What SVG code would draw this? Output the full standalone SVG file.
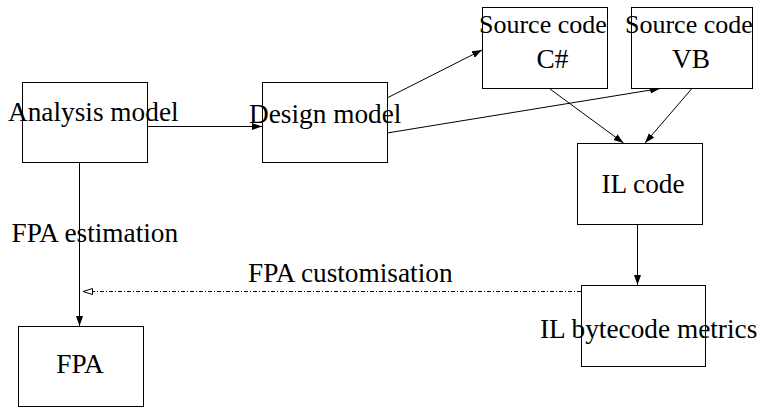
<svg xmlns="http://www.w3.org/2000/svg" width="757" height="408" viewBox="0 0 757 408">
  <style>
    .box { fill: #ffffff; stroke: #000000; stroke-width: 1; }
    .lbl { font-family: "Liberation Serif", "Times New Roman", serif; font-size: 27.3px; fill: #000000; }
    .src { font-size: 26px; }
    .mid { text-anchor: middle; }
    .edge { fill: none; stroke: #000000; stroke-width: 1; }
    .dashdot { stroke-dasharray: 4 2 1 2; }
  </style>
  <defs>
    <marker id="solidHead" markerWidth="11" markerHeight="8" refX="10" refY="4" orient="auto" markerUnits="userSpaceOnUse">
      <path d="M0,0.5 L10,4 L0,7.5 Z" fill="#000000"/>
    </marker>
    <marker id="openHead" markerWidth="12" markerHeight="8" refX="10" refY="4" orient="auto" markerUnits="userSpaceOnUse">
      <path d="M0.5,1 L10,4 L0.5,7 Z" fill="#ffffff" stroke="#000000" stroke-width="1"/>
    </marker>
  </defs>

  <rect width="757" height="408" fill="#ffffff"/>

  <g id="connectors">
    <line class="edge" x1="147" y1="126.5" x2="262" y2="126.5" marker-end="url(#solidHead)"/>
    <line class="edge" x1="387" y1="98" x2="482" y2="50" marker-end="url(#solidHead)"/>
    <line class="edge" x1="387" y1="133" x2="660" y2="88.5" marker-end="url(#solidHead)"/>
    <line class="edge" x1="550" y1="89" x2="623.5" y2="143" marker-end="url(#solidHead)"/>
    <line class="edge" x1="691.5" y1="89" x2="645" y2="143" marker-end="url(#solidHead)"/>
    <line class="edge" x1="637.5" y1="224" x2="637.5" y2="285" marker-end="url(#solidHead)"/>
    <line class="edge" x1="79.5" y1="163" x2="79.5" y2="326" marker-end="url(#solidHead)"/>
    <line class="edge dashdot" x1="581" y1="291.5" x2="83" y2="291.5" marker-end="url(#openHead)"/>
  </g>

  <g id="analysis-model">
    <rect class="box" x="22.5" y="82.5" width="125" height="80"/>
    <text class="lbl" x="8" y="121">Analysis model</text>
  </g>

  <g id="design-model">
    <rect class="box" x="262.5" y="82.5" width="125" height="80"/>
    <text class="lbl" x="249" y="123">Design model</text>
  </g>

  <g id="source-csharp">
    <rect class="box" x="482.5" y="7.5" width="125" height="81"/>
    <text class="lbl src" x="479" y="33">Source code</text>
    <text class="lbl mid" x="552.5" y="68">C#</text>
  </g>

  <g id="source-vb">
    <rect class="box" x="631.5" y="7.5" width="121" height="81"/>
    <text class="lbl src" x="625" y="33">Source code</text>
    <text class="lbl mid" x="691" y="68">VB</text>
  </g>

  <g id="il-code">
    <rect class="box" x="577.5" y="143.5" width="125" height="81"/>
    <text class="lbl" x="601.5" y="193">IL code</text>
  </g>

  <g id="il-bytecode-metrics">
    <rect class="box" x="581.5" y="285.5" width="124" height="81"/>
    <text class="lbl" x="540" y="338">IL bytecode metrics</text>
  </g>

  <g id="fpa">
    <rect class="box" x="18.5" y="326.5" width="125" height="80"/>
    <text class="lbl mid" x="80" y="373">FPA</text>
  </g>

  <g id="edge-labels">
    <text class="lbl" x="11.5" y="242">FPA estimation</text>
    <text class="lbl" x="248" y="282">FPA customisation</text>
  </g>
</svg>
